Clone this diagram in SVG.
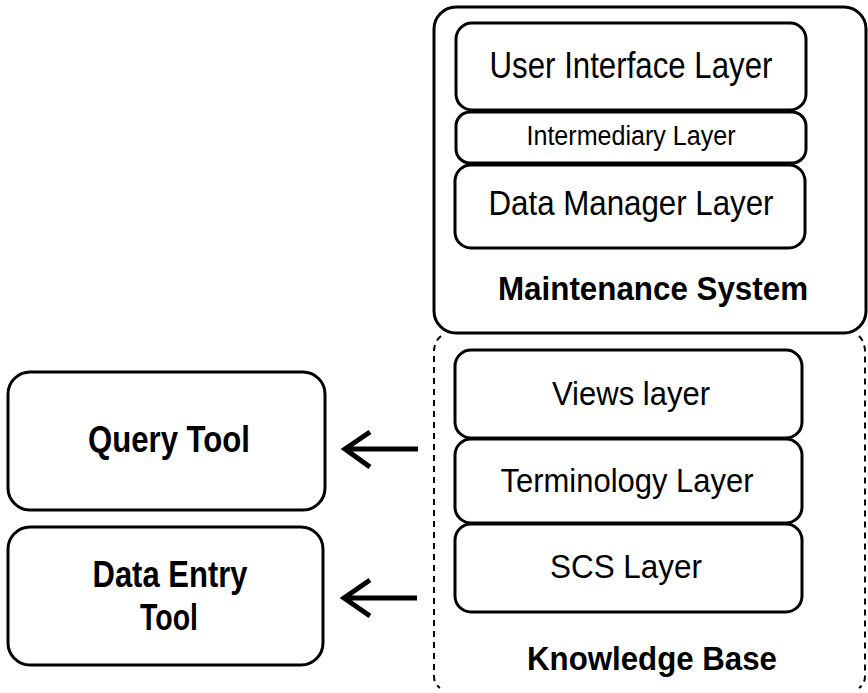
<svg xmlns="http://www.w3.org/2000/svg" width="868" height="693" viewBox="0 0 868 693">
<style>
.box{fill:none;stroke:#000;stroke-width:3}
.t{font-family:"Liberation Sans",Arial,sans-serif;fill:#000;text-anchor:middle}
.b{font-weight:bold}
.arr{fill:none;stroke:#000;stroke-width:5;stroke-linecap:butt;stroke-linejoin:miter}
</style>
<rect width="868" height="693" fill="#fff"/>
<g id="maintenance-system">
<rect class="box" x="434" y="7" width="432" height="326" rx="22"/>
<text class="t b" x="653" y="300" font-size="34" textLength="310" lengthAdjust="spacingAndGlyphs">Maintenance System</text>
</g>
<g id="user-interface-layer">
<rect class="box" x="456" y="23" width="350" height="87" rx="16"/>
<text class="t" x="631" y="78" font-size="37" textLength="283" lengthAdjust="spacingAndGlyphs">User Interface Layer</text>
</g>
<g id="intermediary-layer">
<rect class="box" x="456" y="112" width="350" height="51" rx="14"/>
<text class="t" x="631" y="145" font-size="27" textLength="209" lengthAdjust="spacingAndGlyphs">Intermediary Layer</text>
</g>
<g id="data-manager-layer">
<rect class="box" x="455" y="165" width="350" height="83" rx="16"/>
<text class="t" x="631" y="215" font-size="35" textLength="285" lengthAdjust="spacingAndGlyphs">Data Manager Layer</text>
</g>
<g id="knowledge-base">
<path d="M441,336 Q434,342 434,352 L434,676 Q434,684 440,688 M859,336 Q865,342 865,352 L865,676 Q865,684 859,688" fill="none" stroke="#000" stroke-width="2" stroke-dasharray="6,5"/>
<text class="t b" x="652" y="670" font-size="34" textLength="250" lengthAdjust="spacingAndGlyphs">Knowledge Base</text>
</g>
<g id="views-layer">
<rect class="box" x="455" y="350" width="347" height="88" rx="16"/>
<text class="t" x="631" y="405" font-size="33" textLength="158" lengthAdjust="spacingAndGlyphs">Views layer</text>
</g>
<g id="terminology-layer">
<rect class="box" x="455" y="439" width="347" height="84" rx="16"/>
<text class="t" x="627" y="492" font-size="33" textLength="253" lengthAdjust="spacingAndGlyphs">Terminology Layer</text>
</g>
<g id="scs-layer">
<rect class="box" x="455" y="524" width="347" height="88" rx="16"/>
<text class="t" x="626" y="578" font-size="33" textLength="152" lengthAdjust="spacingAndGlyphs">SCS Layer</text>
</g>
<g id="query-tool">
<rect class="box" x="8" y="372" width="317" height="138" rx="22"/>
<text class="t b" x="169" y="452" font-size="36" textLength="162" lengthAdjust="spacingAndGlyphs">Query Tool</text>
</g>
<g id="data-entry-tool">
<rect class="box" x="8" y="527" width="315" height="138" rx="22"/>
<text class="t b" x="170" y="587" font-size="36" textLength="155" lengthAdjust="spacingAndGlyphs">Data Entry</text>
<text class="t b" x="169" y="630" font-size="36" textLength="58" lengthAdjust="spacingAndGlyphs">Tool</text>
</g>
<g id="connectors">
<path class="arr" d="M418,449 L345,449 M370,432 L345,449 L370,467"/>
<path class="arr" d="M417,598 L344,598 M370,580 L344,598 L370,616"/>
</g>
</svg>
